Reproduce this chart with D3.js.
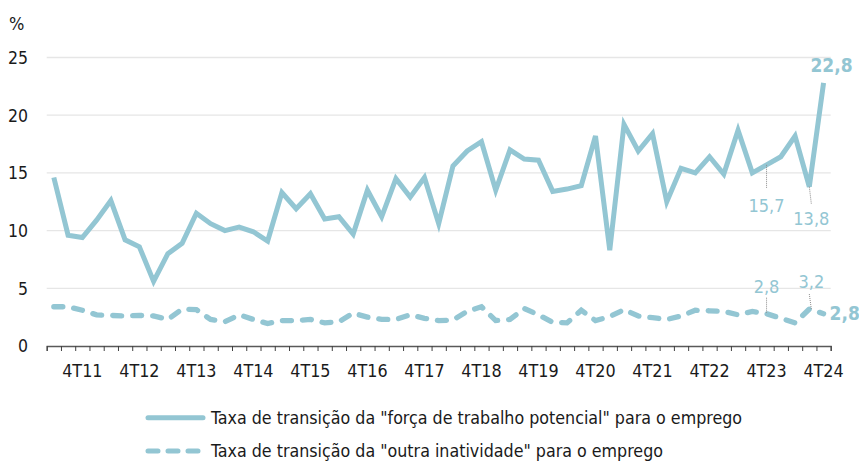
<!DOCTYPE html>
<meta charset="utf-8">
<style>
body { margin: 0; background: #fff; }
text { font-family: "DejaVu Sans Condensed", "DejaVu Sans", sans-serif; }
.grid line { stroke: #e6e6e6; stroke-width: 1.3px; }
</style>
<body>
<script src="https://d3js.org/d3.v7.min.js"></script>
<script>
var width = 859,
    height = 461;

// quarters 2T11 .. 4T24
var quarters = [];
for (var yr = 11; yr <= 24; yr++) {
  for (var q = 1; q <= 4; q++) {
    if (yr === 11 && q < 2) continue;
    quarters.push(q + "T" + yr);
  }
}

var potencial = [14.6, 9.6, 9.4, 10.9, 12.6, 9.2, 8.6, 5.6, 8.0, 8.9, 11.5, 10.6, 10.0, 10.3,
  9.9, 9.1, 13.3, 11.9, 13.2, 11.0, 11.2, 9.7, 13.5, 11.2, 14.5, 12.9, 14.6, 10.6, 15.6, 16.9,
  17.7, 13.5, 17.0, 16.2, 16.1, 13.4, 13.6, 13.9, 18.2, 8.3, 19.2, 16.9, 18.4, 12.5, 15.4, 15.0,
  16.4, 14.9, 18.7, 15.0, 15.7, 16.4, 18.2, 13.8, 22.8];

var outra = [3.4, 3.4, 3.1, 2.7, 2.65, 2.6, 2.65, 2.6, 2.3, 3.2, 3.15, 2.3, 2.1, 2.7, 2.3, 1.95,
  2.2, 2.2, 2.3, 2.0, 2.1, 2.85, 2.5, 2.3, 2.3, 2.7, 2.4, 2.2, 2.25, 3.0, 3.4, 2.2, 2.3, 3.25,
  2.7, 2.05, 2.0, 3.1, 2.2, 2.55, 3.15, 2.6, 2.45, 2.3, 2.6, 3.1, 3.05, 3.0, 2.7, 3.0, 2.8, 2.4,
  2.0, 3.2, 2.8];

var yTicks = [0, 5, 10, 15, 20, 25];
var legendLabels = [
  'Taxa de transição da "força de trabalho potencial" para o emprego',
  'Taxa de transição da "outra inatividade" para o emprego'
];

var color = "#93c6d3";

var svg = d3.select("body").append("svg")
    .attr("width", width)
    .attr("height", height);

var x = d3.scaleBand()
    .domain(quarters)
    .range([46.7, 830.7]);

var xi = d3.scaleLinear()
    .domain([0, quarters.length])
    .range([46.7, 830.7]);

var y = d3.scaleLinear()
    .domain([0, 25])
    .range([346, 57.5]);

var cx = function(i) { return x(quarters[i]) + x.bandwidth() / 2; };

// gridlines
svg.append("g").attr("class", "grid")
  .selectAll("line")
  .data(yTicks.slice(1))
  .enter().append("line")
    .attr("x1", 46.7).attr("x2", 830.7)
    .attr("y1", d => y(d)).attr("y2", d => y(d));

// y labels
svg.append("g")
  .selectAll("text")
  .data(yTicks)
  .enter().append("text")
    .attr("x", 28)
    .attr("y", d => y(d))
    .attr("dy", "0.36em")
    .attr("text-anchor", "end")
    .style("font-size", "17.5px")
    .style("fill", "#1a1a1a")
    .text(d => d);

svg.append("text")
  .attr("x", 9).attr("y", 30)
  .style("font-size", "18px")
  .style("fill", "#1a1a1a")
  .text("%");

// x axis: ticks at category boundaries
var xAxis = svg.append("g")
  .attr("transform", "translate(0," + y(0) + ")")
  .call(d3.axisBottom(xi).tickValues(d3.range(quarters.length + 1)).tickSize(5).tickFormat(""));
xAxis.select(".domain").attr("stroke", "#595959").attr("stroke-width", 1.3);
xAxis.selectAll(".tick line").attr("stroke", "#404040");

svg.append("g")
  .selectAll("text")
  .data(quarters.filter(d => d.charAt(0) === "4"))
  .enter().append("text")
    .attr("x", d => x(d) + x.bandwidth() / 2)
    .attr("y", 377)
    .attr("text-anchor", "middle")
    .style("font-size", "17.8px")
    .style("fill", "#1a1a1a")
    .text(d => d);

// lines
var line = d3.line()
    .x((d, i) => cx(i))
    .y(d => y(d));

svg.append("path")
  .datum(potencial)
  .attr("d", line)
  .attr("fill", "none")
  .attr("stroke", color)
  .attr("stroke-width", 5)
  .attr("stroke-linejoin", "miter");

svg.append("path")
  .datum(outra)
  .attr("d", line)
  .attr("fill", "none")
  .attr("stroke", color)
  .attr("stroke-width", 5.3)
  .attr("stroke-linecap", "round")
  .attr("stroke-dasharray", "9,11");

// annotations
var fmt = d => d.toFixed(1).replace(".", ",");
var notes = [
  {s: potencial, i: 50, ty: 47, l1: 0, l2: 23, dx: 0},
  {s: potencial, i: 53, ty: 38.5, l1: 0, l2: 17, dx: 2},
  {s: outra, i: 50, ty: -21, l1: -16, l2: 0, dx: 0},
  {s: outra, i: 53, ty: -21, l1: -15, l2: 0, dx: 2}
];
notes.forEach(function(n) {
  var px = cx(n.i), py = y(n.s[n.i]);
  svg.append("line")
    .attr("x1", px).attr("y1", py + n.l1)
    .attr("x2", px + n.dx).attr("y2", py + n.l2)
    .attr("stroke", "#8c8c8c")
    .attr("stroke-width", 1)
    .attr("stroke-dasharray", "1,1");
  svg.append("text")
    .attr("x", px + n.dx).attr("y", py + n.ty)
    .attr("text-anchor", "middle")
    .style("font-size", "18px")
    .style("fill", color)
    .text(fmt(n.s[n.i]));
});

var last = quarters.length - 1;
svg.append("text")
  .attr("x", cx(last) + 8).attr("y", y(potencial[last]) - 10.5)
  .attr("text-anchor", "middle")
  .style("font-size", "19px")
  .style("font-weight", "bold")
  .style("fill", color)
  .text(fmt(potencial[last]));

svg.append("text")
  .attr("x", cx(last) + 6).attr("y", y(outra[last]) + 6.5)
  .style("font-size", "19px")
  .style("font-weight", "bold")
  .style("fill", color)
  .text(fmt(outra[last]));

// legend
var legend = svg.append("g")
  .selectAll("g")
  .data(legendLabels)
  .enter().append("g")
    .attr("transform", (d, i) => "translate(0," + (417.7 + i * 33.3) + ")");

legend.append("line")
  .attr("x1", 148).attr("x2", 203)
  .attr("stroke", color)
  .attr("stroke-width", 5)
  .attr("stroke-linecap", "round")
  .attr("stroke-dasharray", (d, i) => i === 0 ? null : "10,10");

legend.append("text")
  .attr("x", 211)
  .attr("dy", "0.36em")
  .style("font-size", "17.7px")
  .style("fill", "#1a1a1a")
  .text(d => d);
</script>
</body>
